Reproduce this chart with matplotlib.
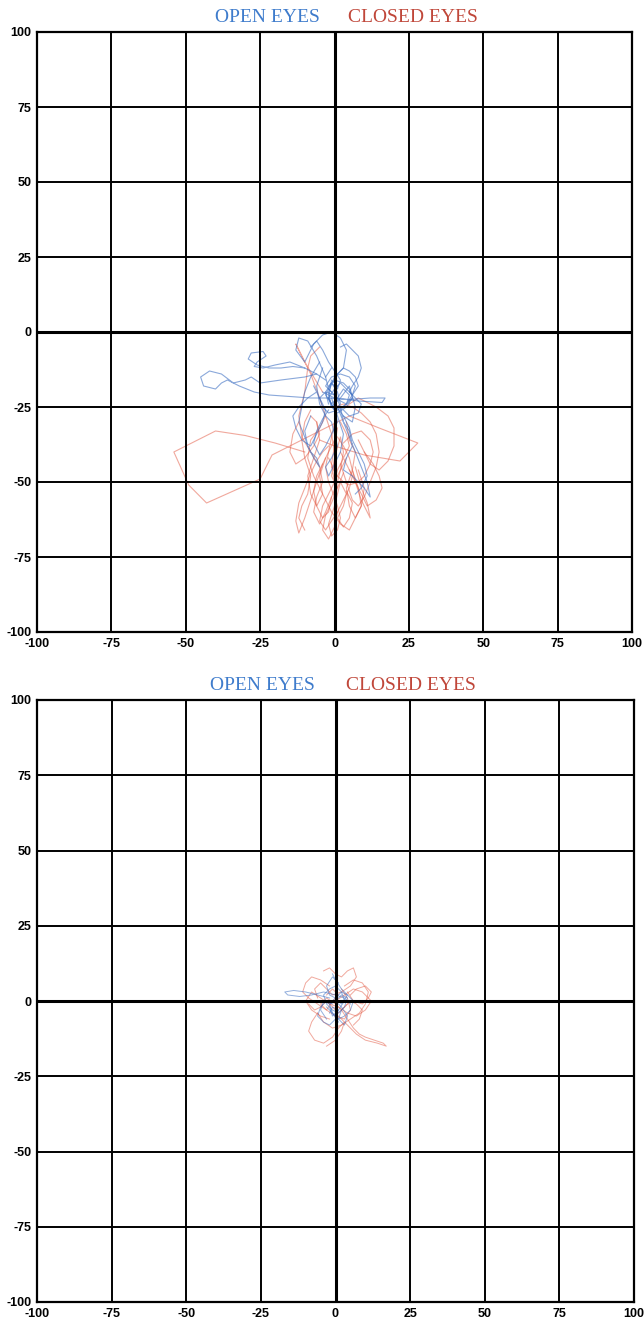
import matplotlib
matplotlib.use("Agg")
import matplotlib.pyplot as plt

# ---------------- data ----------------
ticks = [-100, -75, -50, -25, 0, 25, 50, 75, 100]
tick_labels = ["-100", "-75", "-50", "-25", "0", "25", "50", "75", "100"]

# Top panel - open eyes (blue)
top_open = [
    ([-6,-10,-18,-25,-28,-30,-34,-38,-42,-45,-44,-40,-38,-36,-32,-27,-22,-15,-8,-2,5,12,17,16,8,0,-4],
     [-14,-15,-16,-17,-15,-16,-17,-14,-13,-15,-18,-19,-17,-16,-18,-20,-21,-21.5,-22,-22,-22.5,-22,-22,-23.5,-23,-22,-20]),
    ([-10,-14,-18,-22,-26,-29,-28,-24,-23,-26,-27,-24,-20,-15,-10,-6,-3],
     [-12,-11.5,-12,-12,-11,-9,-7,-6.5,-8,-10,-11.5,-12,-11,-10,-12,-14,-16]),
    ([-3,-6,-9,-12,-13,-10,-7,-4,-1,2,4,3,0,-2,-1,2,5,7,6,3,0],
     [-15,-8,-3,-2,-6,-10,-4,-1,0,-2,-6,-12,-15,-20,-25,-22,-18,-25,-30,-28,-24]),
    ([0,2,3,5,6,4,3,6,8,10,12,11,9,7,5,3,1],
     [-20,-25,-30,-33,-38,-42,-46,-48,-50,-52,-55,-50,-45,-40,-35,-30,-25]),
    ([-2,0,3,5,6,4,2,0,-3,-5,-4,-2,1,4,6,7,5,2,-1,-3,-1],
     [-18,-16,-17,-19,-22,-24,-23,-21,-20,-22,-25,-27,-26,-24,-21,-18,-15,-14,-15,-18,-20]),
    ([-5,-8,-10,-11,-12,-10,-9,-8,-6,-5,-7,-9,-10,-8],
     [-10,-15,-20,-25,-30,-35,-38,-40,-42,-45,-42,-38,-33,-28]),
    ([-4,-6,-5,-3,-1,0,1,-1,-3,-2,0,2,3,1,-1],
     [-12,-18,-24,-28,-30,-34,-38,-42,-45,-48,-44,-40,-34,-28,-22]),
    ([2,4,6,8,9,8,6,5,7,9,8,5,3],
     [-5,-4,-6,-8,-12,-15,-18,-20,-22,-24,-27,-28,-26]),
    ([-1,-3,-2,0,1,-1,-2,0,2,1,-1,-3,-2],
     [-12,-15,-19,-21,-18,-16,-22,-26,-24,-20,-17,-20,-24]),
    ([-8,-6,-4,-2,0,2,1,-1,-3,-1,1,3,5,4,2],
     [-5,-3,-6,-10,-13,-16,-19,-17,-21,-24,-22,-19,-21,-24,-26]),
    ([1,3,5,7,8,6,4,2,0,-2,-1,1,4,6],
     [-14,-12,-13,-15,-18,-21,-19,-17,-19,-22,-25,-27,-25,-22]),
    ([-6,-9,-12,-14,-13,-11,-8,-6,-4,-3,-5,-7],
     [-20,-22,-25,-28,-32,-36,-38,-34,-30,-26,-22,-18]),
    ([-2,-4,-6,-7,-5,-3,-1,1,0,-2],
     [-26,-29,-33,-37,-41,-38,-34,-30,-26,-22]),
    ([3,5,6,8,10,11,9,7],
     [-28,-32,-36,-40,-44,-48,-52,-54]),
]

# Top panel - closed eyes (red)
top_closed = [
    ([-10,-20,-30,-40,-54,-49,-43,-34,-25,-21,-15,-5,5,15,28,22,10,0,-5],
     [-40,-37,-34.5,-33,-40,-51,-57,-53,-49,-41,-38,-33,-28,-32,-37,-43,-41,-38,-36]),
    ([-5,-8,-9,-10,-12,-11,-8,-5,-4,-6,-7,-5,-3,-1],
     [-5,-8,-12,-20,-28,-35,-40,-45,-50,-55,-60,-64,-60,-55]),
    ([0,-1,-2,-3,-2,0,1,2,1,-1,-2,0,2],
     [-30,-35,-40,-45,-50,-55,-58,-62,-66,-68,-64,-58,-50]),
    ([1,3,5,6,7,8,9,10,11,12,11,9,7],
     [-35,-38,-42,-46,-50,-53,-56,-58,-60,-62,-57,-52,-45]),
    ([-2,-4,-6,-8,-10,-12,-13,-12,-10,-8,-6,-4],
     [-38,-40,-43,-47,-52,-57,-63,-67,-62,-56,-50,-44]),
    ([0,3,6,9,12,14,15,14,12,10,8,6,4,2],
     [-25,-24,-25,-27,-30,-34,-40,-45,-50,-55,-58,-56,-50,-44]),
    ([-4,-7,-10,-12,-13,-11,-8,-5,-3,-1,0],
     [-20,-15,-10,-6,-4,-8,-14,-22,-28,-34,-40]),
    ([2,4,6,5,3,1,-1,-3,-5,-4,-2,0,1,3,5,4,2],
     [-40,-44,-48,-52,-56,-60,-63,-66,-63,-58,-54,-50,-46,-42,-38,-34,-30]),
    ([-1,1,3,5,8,10,12,13,12,9,6,3],
     [-45,-48,-50,-51,-50,-48,-44,-40,-36,-33,-34,-37]),
    ([0,-2,-4,-6,-7,-6,-4,-2,-1,1,2,4],
     [-36,-40,-44,-48,-53,-58,-62,-60,-55,-50,-46,-42]),
    ([5,8,10,14,18,20,20,18,15,12,10],
     [-24,-22,-23,-25,-28,-32,-38,-43,-46,-44,-40]),
    ([-3,-5,-8,-9,-7,-4,-1,2,5,7,9,10,8],
     [-28,-32,-36,-42,-48,-54,-60,-64,-66,-62,-58,-52,-46]),
    ([1,0,-1,0,2,3,2,0,-1,1,3],
     [-32,-38,-44,-50,-46,-40,-35,-42,-48,-52,-47]),
    ([-6,-5,-7,-9,-8,-6,-4,-5,-3],
     [-30,-36,-42,-48,-54,-58,-54,-48,-42]),
    ([4,5,7,6,4,5,7,9,8,6],
     [-30,-36,-40,-46,-52,-58,-62,-58,-52,-46]),
    ([-2,0,1,-1,-3,-4,-2,0,1],
     [-42,-46,-52,-57,-61,-66,-69,-65,-60]),
    ([-8,-10,-11,-10,-8,-9,-11,-12,-10],
     [-26,-30,-36,-42,-48,-54,-58,-62,-66]),
    ([8,10,13,15,16,14,11,9,7,5],
     [-36,-40,-44,-48,-52,-56,-58,-54,-50,-46]),
    ([-12,-14,-15,-13,-10,-7,-5,-6,-8],
     [-30,-34,-40,-44,-42,-38,-34,-30,-28]),
    ([2,4,3,1,3,5,6,4],
     [-50,-54,-58,-62,-65,-62,-57,-53]),
]

# Bottom panel - open eyes (blue)
bot_open = [
    ([-2,-6,-10,-14,-17,-16,-12,-8,-4,0,3,5],
     [1,2,3,3.5,3,2,1.5,2,3,2,1,-1]),
    ([0,2,4,3,1,-1,-3,-4,-2,0,2,3,1,-1,-2],
     [0,2,1,-2,-4,-3,-1,2,4,5,3,0,-3,-5,-2]),
    ([-3,-1,1,3,5,6,4,2,0,-2,-4,-5,-3],
     [-2,-4,-6,-5,-3,0,2,3,1,-1,0,-3,-6]),
    ([1,-1,-3,-2,0,2,4,2,0,-1],
     [6,8,5,2,1,-1,2,4,7,9]),
    ([-1,-3,-5,-6,-4,-2,0,1,-1,-2],
     [-1,0,-2,-5,-7,-8,-6,-3,-2,-4]),
    ([2,1,3,4,2,0,-2,-1,1],
     [-3,-6,-8,-5,-2,0,-1,-4,-7]),
]

# Bottom panel - closed eyes (red)
bot_closed = [
    ([0,3,6,9,12,10,7,4,1,-2,-5,-8,-10,-8,-5,-2],
     [0,2,4,3,0,-3,-5,-4,-2,-1,1,3,0,-3,-5,-6]),
    ([-2,-5,-8,-10,-11,-9,-6,-3,0,3,5,4,2],
     [5,7,8,6,3,1,-1,-3,-5,-6,-3,1,4]),
    ([2,4,6,8,10,13,16,17,14,10,7,4,1],
     [-3,-6,-9,-11,-12,-13,-14,-15,-14,-13,-11,-8,-5]),
    ([-4,-2,0,2,4,6,7,5,2,-1,-3,-5,-7,-6],
     [10,11,9,8,10,11,8,5,3,2,4,6,4,1]),
    ([-6,-8,-9,-7,-4,-1,1,3,2,0,-3],
     [-4,-7,-10,-13,-14,-12,-9,-7,-10,-13,-15]),
    ([3,6,9,11,10,8,5,2,-1,-4,-6],
     [5,7,6,3,-1,-4,-6,-8,-9,-7,-4]),
    ([-9,-7,-5,-3,-1,1,3,5,7,9,8,6],
     [-1,-3,-2,0,-2,-4,-2,0,-1,-3,-6,-8]),
    ([-3,-1,1,-1,-3,-5,-3,0,2,4],
     [2,4,2,0,-3,-1,1,-1,-3,-1]),
    ([5,7,10,12,11,9,6,4],
     [2,4,5,3,1,-1,0,3]),
]

label_open = "OPEN EYES"
label_closed = "CLOSED EYES"

# ---------------- drawing ----------------
BLUE = "#3d6fc2"
RED = "#e2533c"

fig = plt.figure(figsize=(6.44, 13.24), dpi=100)
ax_top = fig.add_axes([37/644, 1 - 632/1324, 595/644, 600/1324])
ax_bot = fig.add_axes([37/644, 22/1324, 597/644, 602/1324])


def style(ax):
    ax.set_xlim(-100, 100)
    ax.set_ylim(-100, 100)
    ax.set_xticks(ticks)
    ax.set_yticks(ticks)
    ax.set_xticklabels(tick_labels)
    ax.set_yticklabels(tick_labels)
    ax.tick_params(length=0, pad=4, labelsize=9)
    for lab in ax.get_xticklabels() + ax.get_yticklabels():
        lab.set_fontfamily("Liberation Sans")
        lab.set_fontweight("bold")
    for t in ticks[1:-1]:
        lw = 2.2 if t == 0 else 1.4
        ax.axhline(t, color="black", lw=lw, zorder=3)
        ax.axvline(t, color="black", lw=lw, zorder=3)
    for sp in ax.spines.values():
        sp.set_linewidth(1.6)
        sp.set_zorder(4)


def draw(ax, traces, color, lw=0.8, alpha=0.6):
    for xs, ys in traces:
        ax.plot(xs, ys, color=color, lw=lw, alpha=alpha, zorder=2)


draw(ax_top, top_closed, RED, alpha=0.5)
draw(ax_top, top_open, BLUE, alpha=0.6)
draw(ax_bot, bot_closed, RED, lw=0.7, alpha=0.5)
draw(ax_bot, bot_open, BLUE, lw=0.7, alpha=0.55)
style(ax_top)
style(ax_bot)

for ycen, xo, xc in [(18, 267, 413), (686, 262, 411)]:
    fig.text(xo / 644, 1 - ycen / 1324, label_open, color="#3f7ccc",
             fontfamily="Liberation Serif", fontsize=14, ha="center", va="center")
    fig.text(xc / 644, 1 - ycen / 1324, label_closed, color="#c0473a",
             fontfamily="Liberation Serif", fontsize=14, ha="center", va="center")

fig.savefig("out.png", dpi=100)
